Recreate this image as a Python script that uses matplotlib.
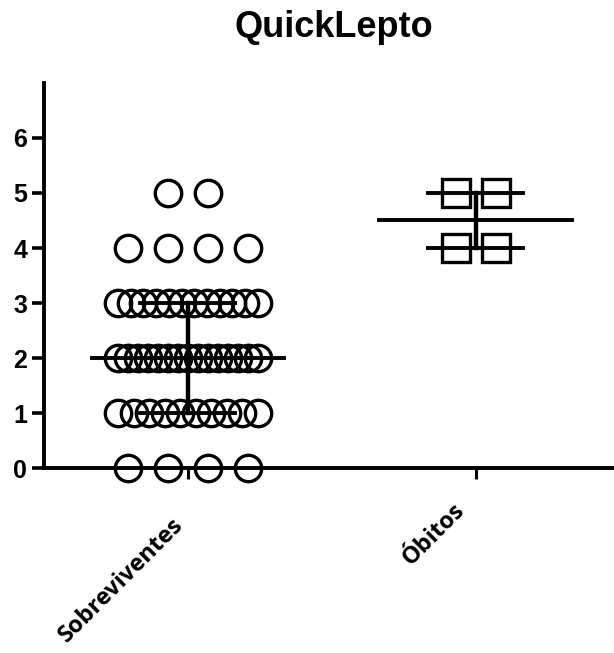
import matplotlib
matplotlib.use("Agg")
import matplotlib.pyplot as plt
import matplotlib.transforms as mtransforms
import numpy as np

title = "QuickLepto"
groups = ["Sobreviventes", "Óbitos"]
# score values -> number of patients with that score
surv_values = [0, 1, 2, 3, 4, 5]
surv_counts = [4, 10, 15, 12, 4, 2]
death_values = [4, 5]
death_counts = [2, 2]
yticks = [0, 1, 2, 3, 4, 5, 6]

fig = plt.figure(figsize=(6.14, 6.53), dpi=100)
ax = fig.add_axes([0.0717, 0.2833, 0.9283, 0.5896])

UNIT_PX = 288.0


def offsets(n):
    if n <= 4:
        step = 40.0
    else:
        step = 140.0 / (n - 1)
    return (np.arange(n) - (n - 1) / 2.0) * step / UNIT_PX


def draw_group(xc, values, counts, marker, ms):
    data = []
    for v, c in zip(values, counts):
        xs = xc + offsets(c)
        ax.plot(xs, [v] * c, linestyle="none", marker=marker, markersize=ms,
                mfc="none", mec="black", mew=2.4, zorder=3, clip_on=False)
        data += [v] * c
    data = np.array(data)
    q1, med, q3 = np.percentile(data, [25, 50, 75])
    ax.plot([xc - 0.335, xc + 0.335], [med, med], color="black", lw=2.8, zorder=4)
    for q in (q1, q3):
        ax.plot([xc - 0.165, xc + 0.165], [q, q], color="black", lw=2.8, zorder=4)
    ax.plot([xc, xc], [q1, q3], color="black", lw=3.2, zorder=4)


draw_group(0, surv_values, surv_counts, "o", 19)
draw_group(1, death_values, death_counts, "s", 19.5)

ax.set_xlim(-0.5, 1.48)
ax.set_ylim(0, 7)
ax.set_yticks(yticks)
ax.set_yticklabels([str(t) for t in yticks], fontsize=18, fontweight="bold",
                   family="Liberation Sans")
ax.set_xticks([0, 1])
ax.set_xticklabels(groups, rotation=45, ha="right", rotation_mode="anchor",
                   fontsize=17, fontweight="bold", family="Open Sans")
ax.tick_params(axis="y", length=9, width=2.6, pad=3)
ax.tick_params(axis="x", length=8, width=2.2, pad=0)
label_shift = [(-17, -34), (-23, -19)]
for lab, (dx, dy) in zip(ax.get_xticklabels(), label_shift):
    lab.set_transform(lab.get_transform() +
                      mtransforms.ScaledTranslation(dx / 100, dy / 100, fig.dpi_scale_trans))
for s in ("top", "right"):
    ax.spines[s].set_visible(False)
for s in ("left", "bottom"):
    ax.spines[s].set_linewidth(2.8)
ax.spines["left"].set_bounds(0, 7)

fig.text(0.544, 0.958, title, ha="center", va="center", fontsize=26,
         fontweight="bold", family="Liberation Sans")

fig.savefig("out.png", dpi=100)
